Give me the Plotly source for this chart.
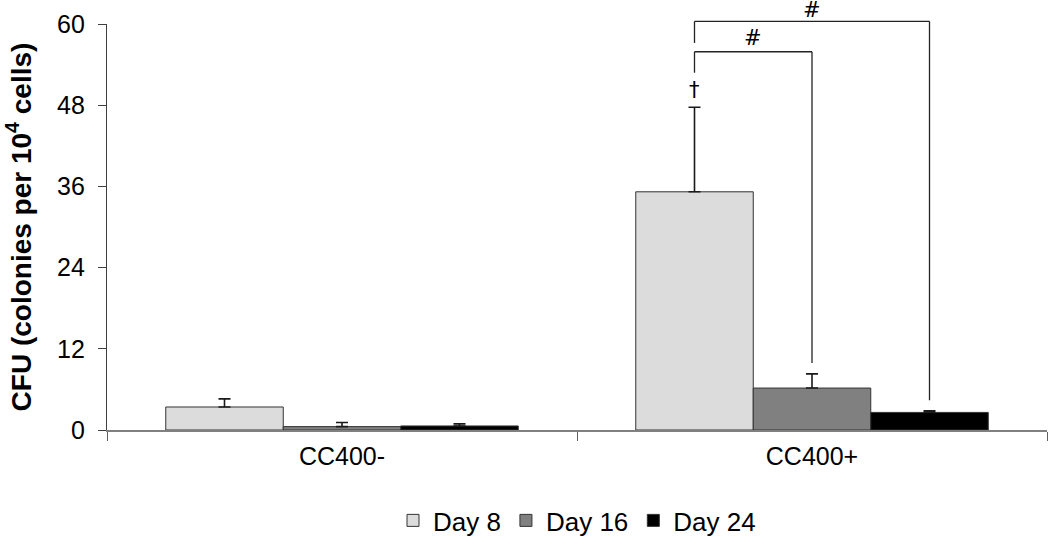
import plotly.graph_objects as go

categories = ["CC400-", "CC400+"]
series_names = ["Day 8", "Day 16", "Day 24"]
day8 = [3.4, 35.2]
day16 = [0.5, 6.2]
day24 = [0.6, 2.6]
err8 = [1.2, 12.5]
err16 = [0.6, 2.1]
err24 = [0.3, 0.25]
colors = ["#dcdcdc", "#808080", "#000000"]
y_ticks = [0, 12, 24, 36, 48, 60]

BARGAP = 0.25
FONT = "Liberation Sans, Arial, sans-serif"

fig = go.Figure()
for name, vals, errs, col in zip(series_names, [day8, day16, day24], [err8, err16, err24], colors):
    fig.add_trace(go.Bar(
        x=categories, y=vals, name=name,
        marker=dict(color=col, line=dict(color="#333333", width=1)),
        error_y=dict(type="data", array=errs, arrayminus=[0] * len(errs), symmetric=False,
                     color="#1a1a1a", thickness=1.6, width=6),
    ))

# bar centre offsets within a category (group of 3 bars)
w = (1 - BARGAP) / 3
pos8, pos16, pos24 = 1 - w, 1.0, 1 + w

line = dict(color="#222222", width=1.3)
# bracket Day 8 vs Day 16
br1_top, br1_left, br1_right = 55.9, 52.8, 9.9
fig.add_shape(type="line", xref="x", yref="y", x0=pos8, x1=pos8, y0=br1_left, y1=br1_top, line=line)
fig.add_shape(type="line", xref="x", yref="y", x0=pos8, x1=pos16, y0=br1_top, y1=br1_top, line=line)
fig.add_shape(type="line", xref="x", yref="y", x0=pos16, x1=pos16, y0=br1_top, y1=br1_right, line=line)
# bracket Day 8 vs Day 24 (top slightly above axis range -> paper units)
br2_top, br2_left, br2_right = 60.4, 57.2, 4.4
fig.add_shape(type="line", xref="x", yref="paper", x0=pos8, x1=pos8, y0=br2_left / 60, y1=br2_top / 60, line=line)
fig.add_shape(type="line", xref="x", yref="paper", x0=pos8, x1=pos24, y0=br2_top / 60, y1=br2_top / 60, line=line)
fig.add_shape(type="line", xref="x", yref="paper", x0=pos24, x1=pos24, y0=br2_top / 60, y1=br2_right / 60, line=line)

mark_font = dict(size=21, color="#000000", family="DejaVu Sans, sans-serif")
fig.add_annotation(x=(pos8 + pos16) / 2, y=br1_top, xref="x", yref="y", text="#", showarrow=False,
                   font=mark_font, yanchor="bottom")
fig.add_annotation(x=pos16, y=br2_top / 60, xref="x", yref="paper", text="#", showarrow=False,
                   font=mark_font, yanchor="bottom", yshift=-3)
fig.add_annotation(x=pos8, y=50.2, xref="x", yref="y", text="†", showarrow=False,
                   font=mark_font)

fig.update_layout(
    width=1050, height=549,
    margin=dict(l=107, r=3, t=24, b=119, autoexpand=False),
    paper_bgcolor="white", plot_bgcolor="white",
    barmode="group", bargap=BARGAP, bargroupgap=0,
    font=dict(family=FONT, size=25, color="#000000"),
    showlegend=True,
    legend=dict(orientation="h", x=0.5, xanchor="center", y=-0.165, yanchor="top",
                font=dict(size=26), traceorder="normal"),
    xaxis=dict(range=[-0.5, 1.5], showline=True, linecolor="#808080", linewidth=1.5,
               ticks="outside", tickson="boundaries", ticklen=9, tickcolor="#606060",
               showgrid=False, zeroline=False, tickfont=dict(size=25), automargin=False,
               ticklabelstandoff=3),
    yaxis=dict(range=[0, 60], tickvals=y_ticks, ticktext=[str(v) for v in y_ticks],
               showline=True, linecolor="#404040", linewidth=1.2,
               ticks="outside", ticklen=8, tickcolor="#404040", ticklabelstandoff=8,
               showgrid=False, zeroline=False, tickfont=dict(size=25), automargin=False,
               title=dict(text="<b>CFU (colonies per 10<sup>4</sup> cells)</b>",
                          font=dict(size=28), standoff=17)),
)

# remove the page's default 8px body margin so the figure fills the window exactly
fig.write_html("out.html", config={"displayModeBar": False},
               post_script="document.body.style.margin='0';")
